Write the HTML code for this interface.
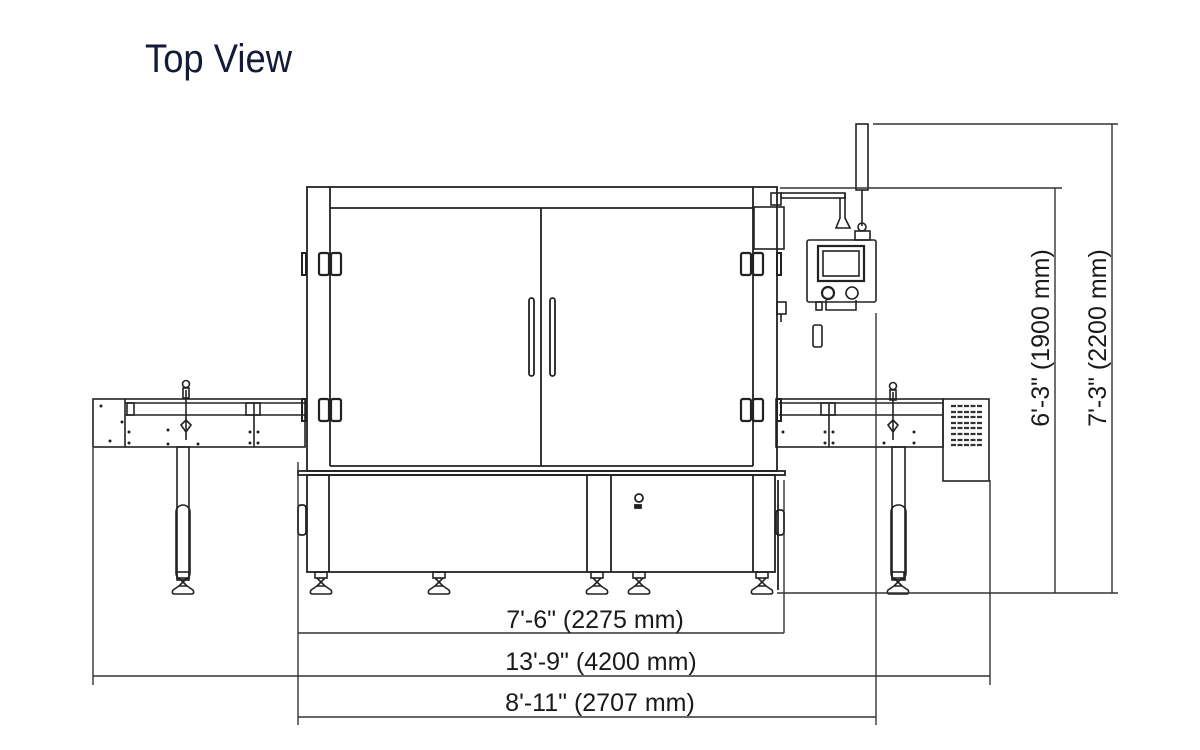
<!DOCTYPE html>
<html><head><meta charset="utf-8"><style>
html,body{margin:0;padding:0;background:#fff;width:1200px;height:750px;overflow:hidden}
svg{display:block}
text{font-family:"Liberation Sans",Arial,sans-serif;fill:#1a1a1a}
</style></head><body>
<svg width="1200" height="750" viewBox="0 0 1200 750" xmlns="http://www.w3.org/2000/svg">
<defs>
<g id="ft"><rect x="-6" y="572" width="12" height="6"/><line x1="-4" y1="578" x2="4" y2="586"/><line x1="4" y1="578" x2="-4" y2="586"/><path d="M-4 586 L-10 590 Q-12 594 -8 594 L8 594 Q12 594 10 590 L4 586 Z"/></g>
</defs>
<text x="145" y="72" font-size="40" textLength="147" lengthAdjust="spacingAndGlyphs" style="fill:#141a3a">Top View</text>

<g fill="none" stroke="#222" stroke-width="1.8">
<rect x="307" y="187" width="470" height="284"/>
<line x1="330" y1="187" x2="330" y2="466"/>
<line x1="753" y1="187" x2="753" y2="466"/>
<line x1="330" y1="208" x2="753" y2="208"/>
<line x1="330" y1="466" x2="753" y2="466"/>
<line x1="541" y1="208" x2="541" y2="466"/>
<rect x="529" y="298" width="5" height="78" rx="2.5"/>
<rect x="550" y="298" width="5" height="78" rx="2.5"/>
<rect x="319" y="253" width="10" height="22" rx="2" stroke-width="2.2"/>
<rect x="331" y="253" width="10" height="22" rx="2" stroke-width="2.2"/>
<rect x="319" y="399" width="10" height="22" rx="2" stroke-width="2.2"/>
<rect x="331" y="399" width="10" height="22" rx="2" stroke-width="2.2"/>
<rect x="741" y="253" width="10" height="22" rx="2" stroke-width="2.2"/>
<rect x="753" y="253" width="10" height="22" rx="2" stroke-width="2.2"/>
<rect x="741" y="399" width="10" height="22" rx="2" stroke-width="2.2"/>
<rect x="753" y="399" width="10" height="22" rx="2" stroke-width="2.2"/>
<rect x="302" y="253" width="4" height="22" stroke-width="2"/>
<rect x="302" y="399" width="4" height="22" stroke-width="2"/>
<rect x="777" y="253" width="4" height="22" stroke-width="2"/>
<rect x="777" y="399" width="4" height="22" stroke-width="2"/>
<rect x="298" y="471" width="487" height="4"/>
<rect x="307" y="475" width="468" height="97"/>
<line x1="329" y1="475" x2="329" y2="572"/>
<line x1="753" y1="475" x2="753" y2="572"/>
<line x1="587" y1="475" x2="587" y2="572"/>
<line x1="611" y1="475" x2="611" y2="572"/>
<circle cx="639" cy="498" r="4"/>
<rect x="635" y="505" width="6" height="3" fill="#222"/>
<rect x="298" y="505" width="8" height="30" rx="3"/>
<rect x="776" y="510" width="8" height="25" rx="3"/>
<line x1="778" y1="480" x2="778" y2="590"/>
</g>
<g fill="none" stroke="#222" stroke-width="1.6">
<use href="#ft" x="321"/><use href="#ft" x="439"/><use href="#ft" x="597"/><use href="#ft" x="639"/><use href="#ft" x="762"/>
<use href="#ft" x="183"/>
<use href="#ft" x="898"/>
</g>

<g fill="none" stroke="#222" stroke-width="1.6">
<rect x="93" y="399" width="212" height="48"/>
<line x1="125" y1="403" x2="305" y2="403"/>
<line x1="125" y1="415" x2="305" y2="415"/>
<line x1="125" y1="399" x2="125" y2="447"/>
<line x1="254" y1="403" x2="254" y2="447"/>
<rect x="127" y="403" width="7" height="12"/><rect x="246" y="403" width="14" height="12"/>
<rect x="177" y="447" width="12" height="133"/>
<rect x="176" y="505" width="14" height="75" rx="7"/>
<line x1="186" y1="390" x2="186" y2="440"/>
<rect x="183" y="388" width="6" height="10"/>
<circle cx="186" cy="384" r="3.5"/>
<path d="M181 425 L186 420 L191 425 L186 432 Z"/>
</g>
<g fill="#222">
<circle cx="101" cy="406" r="1.5"/><circle cx="122" cy="422" r="1.5"/><circle cx="129" cy="432" r="1.5"/><circle cx="129" cy="443" r="1.5"/><circle cx="168" cy="430" r="1.5"/><circle cx="168" cy="444" r="1.5"/><circle cx="198" cy="444" r="1.5"/><circle cx="250" cy="432" r="1.5"/><circle cx="258" cy="432" r="1.5"/><circle cx="250" cy="443" r="1.5"/><circle cx="258" cy="443" r="1.5"/><circle cx="110" cy="441" r="1.5"/>
</g>

<g fill="none" stroke="#222" stroke-width="1.6">
<rect x="776" y="399" width="167" height="48"/>
<line x1="779" y1="403" x2="943" y2="403"/>
<line x1="779" y1="415" x2="943" y2="415"/>
<line x1="829" y1="403" x2="829" y2="447"/>
<rect x="821" y="403" width="14" height="12"/>
<rect x="943" y="399" width="46" height="82"/>
<rect x="892" y="447" width="13" height="133"/>
<rect x="891" y="505" width="15" height="75" rx="7"/>
<line x1="893" y1="392" x2="893" y2="440"/>
<rect x="890" y="390" width="6" height="10"/>
<circle cx="893" cy="386" r="3.5"/>
<path d="M888 425 L893 420 L898 425 L893 432 Z"/>
</g>
<g stroke="#333" stroke-width="2.2" stroke-dasharray="5 1.5">
<line x1="951" y1="406" x2="982" y2="406"/><line x1="951" y1="412" x2="982" y2="412"/><line x1="951" y1="417" x2="982" y2="417"/><line x1="951" y1="423" x2="982" y2="423"/><line x1="951" y1="428" x2="982" y2="428"/><line x1="951" y1="434" x2="982" y2="434"/><line x1="951" y1="440" x2="982" y2="440"/><line x1="951" y1="445" x2="982" y2="445"/>
</g>
<g fill="#222"><circle cx="783" cy="432" r="1.5"/><circle cx="825" cy="432" r="1.5"/><circle cx="833" cy="432" r="1.5"/><circle cx="825" cy="443" r="1.5"/><circle cx="833" cy="443" r="1.5"/><circle cx="884" cy="443" r="1.5"/><circle cx="914" cy="432" r="1.5"/><circle cx="914" cy="443" r="1.5"/></g>

<g fill="none" stroke="#222" stroke-width="1.6">
<rect x="754" y="207" width="30" height="42"/>
<rect x="771" y="193" width="10" height="12"/>
<rect x="781" y="193" width="64" height="5"/>
<path d="M840 198 L840 218 L836 228 L850 228 L845 218 L845 193"/>
<rect x="856" y="124" width="12" height="66"/>
<line x1="862" y1="190" x2="862" y2="226"/>
<circle cx="862" cy="227" r="4"/>
<rect x="855" y="231" width="15" height="9"/>
<rect x="807" y="240" width="69" height="62" rx="2"/>
<rect x="818" y="246" width="46" height="35" stroke-width="2.2"/>
<rect x="823" y="251" width="36" height="25"/>
<circle cx="828" cy="293" r="6" stroke-width="2.2"/><circle cx="852" cy="293" r="6"/>
<path d="M826 300 L826 310 L856 310 L856 300"/>
<rect x="816" y="302" width="6" height="8"/>
<rect x="813" y="325" width="9" height="22" rx="2"/>
<rect x="777" y="302" width="9" height="12"/>
<line x1="781" y1="314" x2="781" y2="322"/>
</g>

<g stroke="#333" stroke-width="1.4" fill="none">
<line x1="298" y1="462" x2="298" y2="725"/>
<line x1="93" y1="448" x2="93" y2="685"/>
<line x1="876" y1="313" x2="876" y2="725"/>
<line x1="990" y1="480" x2="990" y2="685"/>
<line x1="784" y1="480" x2="784" y2="633"/>
<line x1="298" y1="633" x2="784" y2="633"/>
<line x1="93" y1="676" x2="990" y2="676"/>
<line x1="298" y1="717" x2="876" y2="717"/>
<line x1="780" y1="188" x2="1062" y2="188"/>
<line x1="873" y1="124" x2="1118" y2="124"/>
<line x1="1055" y1="188" x2="1055" y2="593"/>
<line x1="1112" y1="124" x2="1112" y2="593"/>
<line x1="777" y1="593" x2="1118" y2="593"/>
</g>
<g font-size="25" text-anchor="middle">
<text x="595" y="628">7'-6" (2275 mm)</text>
<text x="601" y="670">13'-9" (4200 mm)</text>
<text x="600" y="711">8'-11" (2707 mm)</text>
<text transform="translate(1049,338) rotate(-90)">6'-3" (1900 mm)</text>
<text transform="translate(1106,338) rotate(-90)">7'-3" (2200 mm)</text>
</g>
</svg>
</body></html>
